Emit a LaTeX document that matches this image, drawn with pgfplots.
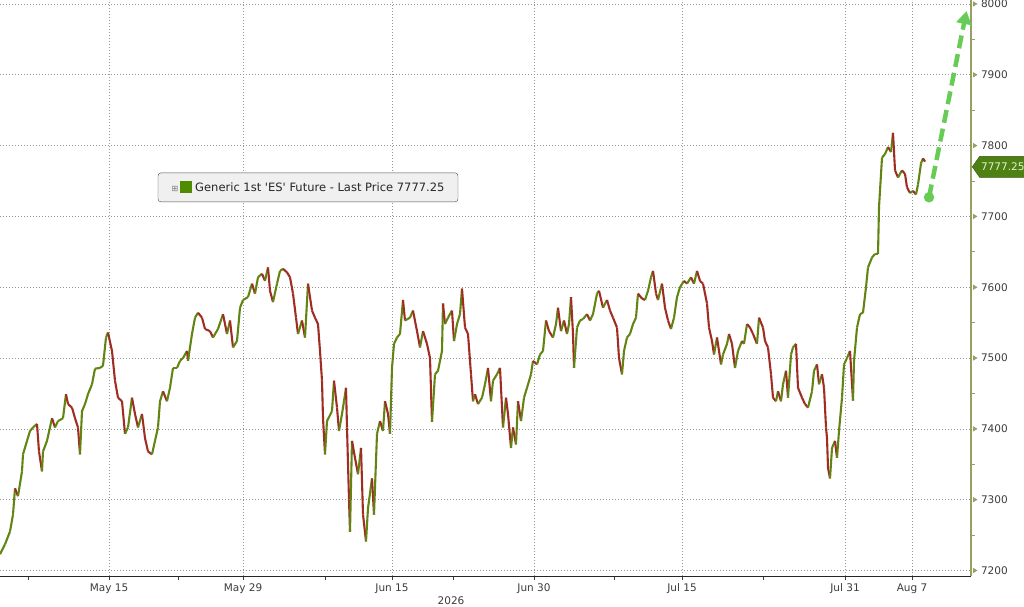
\documentclass[border=0pt]{standalone}
\usepackage{pgfplots}
\pgfplotsset{compat=1.18}
\usepackage{fontspec}
\setmainfont{DejaVu Sans}
\usetikzlibrary{arrows.meta,shapes.symbols}

\definecolor{cup}{RGB}{98,132,18}
\definecolor{cdown}{RGB}{160,45,35}
\definecolor{gridgray}{RGB}{150,150,150}
\definecolor{axisolive}{RGB}{150,160,100}
\definecolor{arrowgreen}{RGB}{102,204,85}
\definecolor{tagfill}{RGB}{78,128,20}
\definecolor{tagtext}{RGB}{225,245,205}
\definecolor{labelgray}{RGB}{60,60,60}
\definecolor{legfill}{RGB}{240,240,240}
\definecolor{legsq}{RGB}{80,140,0}

% x = horizontal position of the session on the chart, y = price, d = 1 if next move is up
\pgfplotstableread{
x y d
0 7223 1
5 7237 1
10 7255 1
13 7279 1
15 7316 0
18 7305 1
22 7340 1
23 7364 1
27 7383 1
30 7397 1
33 7402 1
37 7407 0
39 7368 0
42 7340 1
43 7368 1
47 7383 1
52 7415 0
55 7402 1
58 7411 1
63 7415 1
66 7449 0
68 7435 0
72 7430 0
75 7415 0
78 7402 0
80 7364 1
82 7425 1
85 7435 1
88 7449 1
92 7463 1
95 7485 1
100 7486 1
103 7489 1
106 7529 1
108 7536 0
112 7510 0
115 7468 0
118 7444 0
122 7439 0
125 7393 1
128 7402 1
132 7444 0
135 7421 0
138 7402 1
142 7421 0
145 7387 0
148 7368 0
152 7364 1
155 7383 1
158 7402 1
160 7439 1
163 7453 0
167 7439 1
170 7458 1
173 7486 1
177 7486 1
180 7496 1
183 7500 1
187 7510 0
188 7496 1
192 7534 1
195 7557 1
198 7564 0
202 7557 0
205 7541 0
210 7538 0
213 7529 1
218 7541 1
223 7562 0
227 7534 1
230 7553 0
233 7515 1
237 7524 1
240 7571 1
243 7582 1
248 7586 1
252 7605 0
255 7591 1
258 7614 1
262 7619 0
265 7609 1
268 7628 0
270 7595 0
273 7579 1
277 7605 1
280 7623 1
283 7626 0
287 7621 0
290 7614 0
293 7591 0
296 7557 0
298 7534 1
302 7553 0
305 7529 1
308 7605 0
312 7567 0
315 7557 0
318 7548 0
320 7510 0
322 7468 0
323 7415 0
325 7364 1
327 7411 1
332 7425 1
334 7468 0
337 7430 0
339 7397 1
342 7421 1
344 7439 1
346 7458 0
347 7402 0
349 7300 0
350 7255 1
352 7383 0
355 7359 0
358 7336 1
361 7373 0
363 7279 0
366 7241 1
368 7288 1
372 7330 0
374 7279 1
377 7393 1
380 7411 0
383 7397 1
385 7439 0
388 7421 0
390 7393 1
392 7486 1
394 7520 1
397 7529 1
400 7534 1
403 7582 0
405 7553 1
410 7557 1
413 7567 0
417 7538 0
420 7515 1
423 7538 0
427 7520 0
430 7500 0
432 7410 1
435 7477 1
438 7482 1
442 7510 1
443 7577 0
445 7548 1
448 7557 1
452 7567 0
454 7524 1
457 7548 1
460 7562 1
462 7598 0
465 7543 0
468 7534 0
471 7477 0
473 7439 1
475 7449 0
478 7435 1
482 7444 1
485 7463 1
488 7486 0
491 7439 1
493 7468 1
497 7477 1
500 7486 0
503 7402 1
506 7444 0
508 7421 0
511 7373 1
513 7402 0
516 7378 1
518 7439 0
521 7411 1
524 7444 1
527 7458 1
531 7477 1
533 7496 0
537 7491 1
540 7505 1
543 7510 1
546 7553 0
549 7538 0
553 7529 1
556 7548 1
558 7571 0
561 7538 1
564 7553 0
567 7534 1
569 7548 1
571 7586 0
573 7534 0
574 7486 1
577 7543 1
580 7553 1
583 7555 1
587 7562 0
590 7553 1
593 7562 1
597 7591 1
599 7595 0
603 7571 1
607 7582 0
610 7567 0
613 7557 0
617 7543 0
619 7500 0
622 7477 1
624 7510 1
627 7529 1
630 7534 1
633 7548 1
636 7557 1
638 7591 0
642 7584 0
645 7582 1
648 7595 1
651 7614 1
653 7623 0
656 7591 0
658 7582 1
662 7605 0
665 7571 0
668 7553 0
671 7541 1
674 7557 1
677 7586 1
680 7600 1
684 7609 0
687 7605 1
691 7614 0
694 7605 1
697 7623 0
700 7609 0
703 7605 0
707 7577 0
709 7543 0
712 7524 0
714 7505 1
717 7529 0
721 7491 1
723 7505 1
727 7520 1
729 7534 0
732 7520 0
735 7486 1
738 7510 1
742 7524 0
744 7520 1
747 7548 0
750 7543 0
753 7534 0
757 7520 1
759 7557 0
763 7543 0
765 7524 0
768 7515 0
771 7477 0
773 7444 0
776 7439 1
778 7453 0
781 7439 1
783 7463 1
786 7482 0
788 7444 1
791 7505 1
793 7515 1
796 7520 0
798 7458 0
802 7444 0
805 7435 0
808 7430 1
812 7453 1
814 7482 1
817 7491 0
819 7463 1
822 7477 0
824 7458 0
826 7402 0
827 7387 0
828 7345 0
830 7330 1
832 7373 1
835 7383 0
837 7359 1
839 7397 1
842 7444 1
844 7491 1
847 7500 1
850 7510 0
853 7440 1
854 7496 1
857 7543 1
860 7562 1
863 7564 1
866 7600 1
868 7628 1
872 7642 1
875 7647 1
878 7647 1
879 7713 1
882 7783 1
885 7788 1
888 7798 0
891 7791 1
893 7818 0
895 7765 0
898 7755 1
902 7765 0
905 7760 0
907 7741 0
910 7733 1
913 7736 0
916 7731 1
918 7745 1
921 7775 1
923 7782 0
925 7777.25 1
}\esdata

\begin{document}
\begin{tikzpicture}
\begin{axis}[
  at={(0pt,30pt)}, anchor=south west,
  scale only axis, width=971pt, height=576pt,
  xmin=0, xmax=971, ymin=7192.2, ymax=8005.6,
  axis x line*=bottom, axis y line*=right,
  x axis line style={black!85, line width=0.8pt},
  y axis line style={axisolive, line width=1.1pt},
  xtick={109,243,392,534,682,845,912},
  xticklabels={May 15,May 29,Jun 15,Jun 30,Jul 15,Jul 31,Aug 7},
  minor xtick={28,178,325,453,614,763},
  ytick={7200,7300,...,8000},
  grid=major,
  major grid style={gridgray, line width=0.6pt, dash pattern=on 1pt off 2pt},
  tick align=outside,
  major tick length=4pt, minor tick length=4pt,
  xtick style={black!75, line width=0.6pt},
  ytick style={draw=none},
  ticklabel style={font=\fontsize{10.5}{12}\selectfont, text=labelgray},
  yticklabel style={anchor=west, xshift=2.5pt},
  /pgf/number format/set thousands separator={},
  /pgf/number format/assume math mode=true,
  clip=false,
]
% price path coloured by direction
\addplot[mesh, shader=flat corner, point meta=explicit,
  colormap={updown}{color=(cdown) color=(cup)},
  point meta min=0, point meta max=1, line width=2.1pt, line join=round]
  table[x=x, y=y, meta=d] {\esdata};

% right axis tick marks
\addplot[only marks, mark=triangle*, mark size=2.6pt, axisolive,
  mark options={rotate=-90}]
  coordinates {(974.5,7200) (974.5,7300) (974.5,7400) (974.5,7500) (974.5,7600)
               (974.5,7700) (974.5,7800) (974.5,7900) (974.5,8000)};
\addplot[only marks, mark=-, mark size=2pt, axisolive, mark options={line width=0.8pt}]
  coordinates {(973,7250) (973,7350) (973,7450) (973,7550) (973,7650)
               (973,7750) (973,7850) (973,7950)};

% projected move
\addplot[arrowgreen, line width=4.5pt, dash pattern=on 13pt off 6pt,
  -{Triangle[width=15pt,length=13pt]}]
  coordinates {(929,7727) (966.5,7990)};
\addplot[only marks, mark=*, mark size=5pt, arrowgreen]
  coordinates {(929,7727)};

% last price tag
\node[signal, signal to=west, signal pointer angle=110, fill=tagfill, draw=tagfill!70!black,
  text=tagtext, font=\fontsize{10.5}{12}\selectfont, inner sep=1.5pt,
  minimum height=21pt, anchor=west]
  at (axis cs:972,7770) {7777.25};

% legend box
\node[draw=black!70, fill=legfill, rounded corners=3pt, minimum width=300pt,
  minimum height=29pt, font=\fontsize{11.5}{13}\selectfont, text=black!85]
  at (axis cs:308,7741)
  {{\fontsize{8}{9}\selectfont\textcolor{black!55}{⊞}}\hspace{2pt}\textcolor{legsq}{\rule[-1.5pt]{12pt}{12pt}}\hspace{3pt}Generic 1st \textquotesingle ES\textquotesingle\ Future - Last Price 7777.25};

% year label
\node[font=\fontsize{10.5}{12}\selectfont, text=labelgray]
  at (axis cs:451,7192.2) [yshift=-24.5pt] {2026};
\end{axis}
\pgfresetboundingbox
\path[use as bounding box] (0,0) rectangle (1024pt,606pt);
\end{tikzpicture}
\end{document}
